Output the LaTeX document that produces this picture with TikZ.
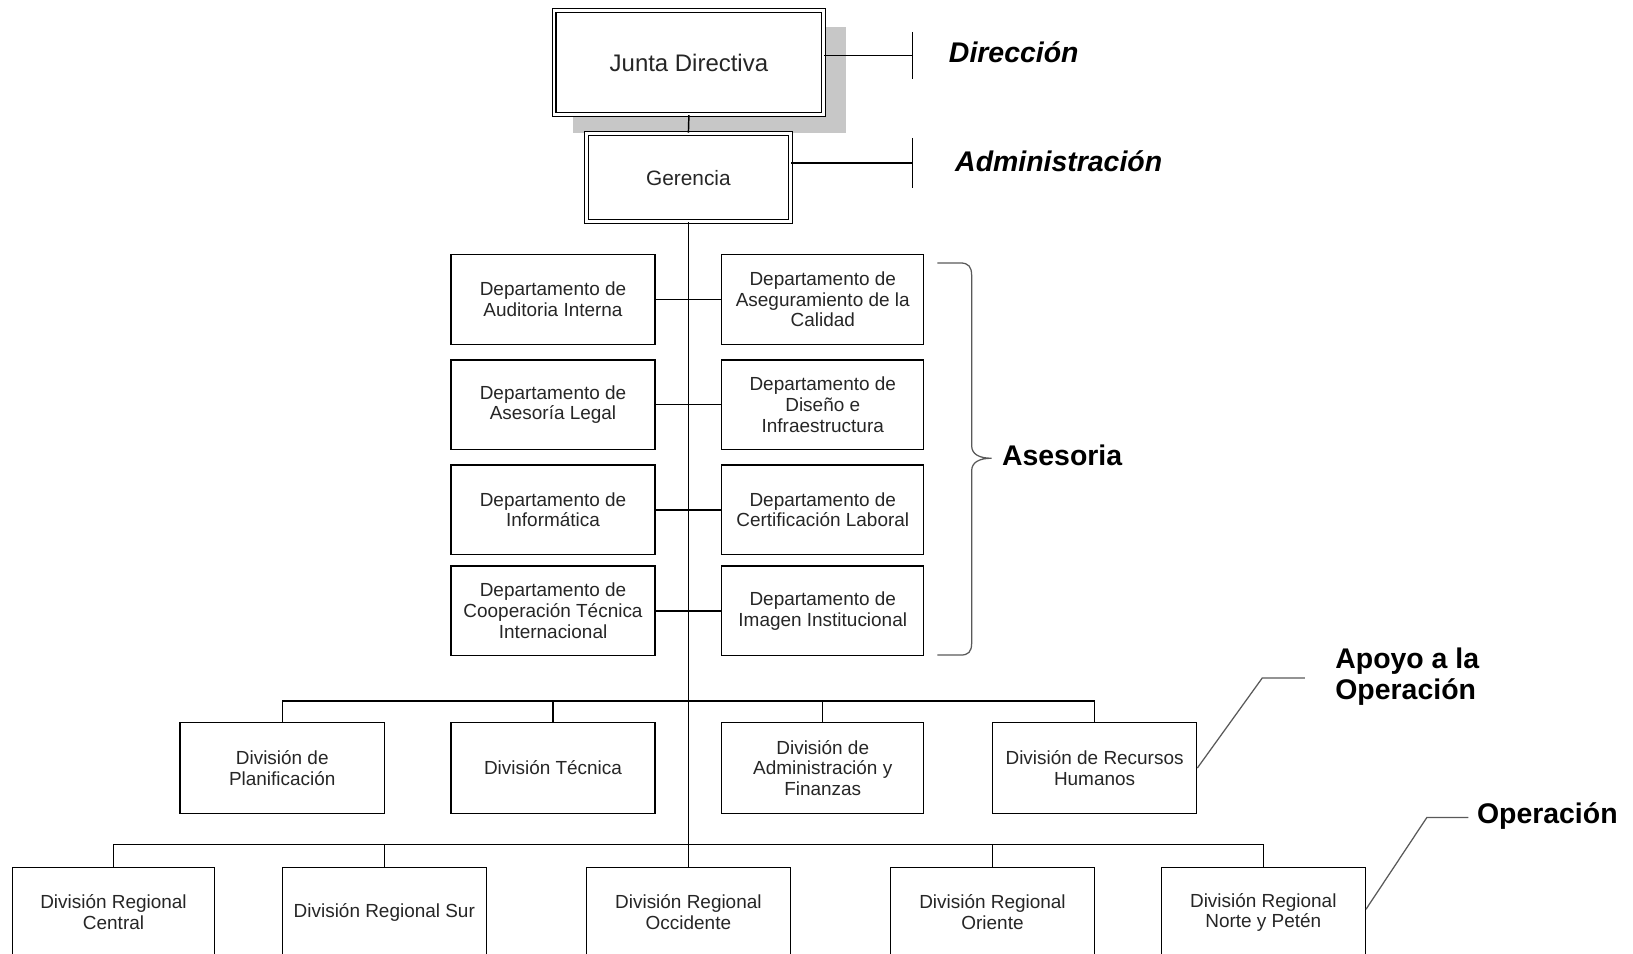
\documentclass[tikz,border=0pt]{standalone}
\usepackage{fontspec}
\setmainfont{Liberation Sans}
\newcommand{\deptfont}{\fontsize{18.2}{19.8}\selectfont}
\newcommand{\lblfont}{\fontsize{27.3}{30}\selectfont\bfseries}
\begin{document}
\begin{tikzpicture}[x=1pt,y=-1pt]
\tikzset{
  box/.style={draw, line width=1.3pt, fill=white, align=center, minimum width=196pt, minimum height=86pt, inner sep=2pt, font=\deptfont, text=black!85},
  dbox/.style={draw, double, double distance=2.6pt, line width=1.1pt, fill=white, align=center, inner sep=2pt, text=black!85},
  conn/.style={line width=1.4pt},
  lead/.style={line width=1.2pt, black!65},
  lbl/.style={anchor=west, font=\lblfont, inner sep=0pt, align=left}
}
\useasboundingbox (0,0) rectangle (1568,916);
% shadow
\fill[black!22] (550,26) rectangle (812,128);
% top
\node[dbox, minimum width=259pt, minimum height=100pt, font=\fontsize{23}{26}\selectfont] (junta) at (661.5,60) {Junta Directiva};
\node[dbox, minimum width=196pt, minimum height=85pt, font=\fontsize{20}{23}\selectfont] (ger) at (661,170.5) {Gerencia};
\draw[conn] (junta.south) -- (ger.north);
% Direccion / Administracion
\coordinate (dirbar) at (876,53.5);
\coordinate (admbar) at (876,156.5);
\draw[conn] (junta.east |- dirbar) -- (dirbar);
\draw[conn] (876,30.5) -- (876,76);
\draw[conn] (ger.east |- admbar) -- (admbar);
\draw[conn] (876,132.5) -- (876,180.5);
\node[lbl, font=\lblfont\itshape] (dir) at (911,50) {Dirección};
\node[lbl, font=\lblfont\itshape] (adm) at (917,155) {Administración};
% departments
\node[box] (l1) at (531,287.5) {Departamento de\\Auditoria Interna};
\node[box] (l2) at (531,388.5) {Departamento de\\Asesoría Legal};
\node[box] (l3) at (531,489.5) {Departamento de\\Informática};
\node[box] (l4) at (531,586.5) {Departamento de\\Cooperación Técnica\\Internacional};
\node[box, minimum width=194pt] (r1) at (790,287.5) {Departamento de\\Aseguramiento de la\\Calidad};
\node[box, minimum width=194pt] (r2) at (790,388.5) {Departamento de\\Diseño e\\Infraestructura};
\node[box, minimum width=194pt] (r3) at (790,489.5) {Departamento de\\Certificación Laboral};
\node[box, minimum width=194pt] (r4) at (790,586.5) {Departamento de\\Imagen Institucional};
\foreach \i in {1,2,3,4}{\draw[conn] (l\i.east) -- (r\i.west);}
% trunk
\coordinate (mh) at (661,673);
\coordinate (bh) at (661,811);
\draw[conn] (ger.south) -- (bh);
% brace
\draw[lead] (900,252.5) -- (922,252.5) .. controls (930,252.5) and (933,256) .. (933,265)
  -- (933,428) .. controls (933,436) and (940,440) .. (952,440)
  .. controls (940,440) and (933,444) .. (933,452)
  -- (933,617) .. controls (933,626) and (930,629) .. (922,629) -- (900,629);
\node[lbl] (ases) at (962,437) {Asesoria};
% divisions
\node[box, minimum height=87pt] (d1) at (271,737.5) {División de\\Planificación};
\node[box, minimum height=87pt] (d2) at (531,737.5) {División Técnica};
\node[box, minimum height=87pt, minimum width=194pt] (d3) at (790,737.5) {División de\\Administración y\\Finanzas};
\node[box, minimum height=87pt] (d4) at (1051,737.5) {División de Recursos\\Humanos};
\draw[conn] (d1.north) -- (d1.north |- mh) -- (d4.north |- mh) -- (d4.north);
\draw[conn] (d2.north) -- (d2.north |- mh);
\draw[conn] (d3.north) -- (d3.north |- mh);
% Apoyo
\coordinate (ap1) at (1212,651);
\coordinate (ap2) at (1253,651);
\draw[lead] (d4.east) -- (ap1) -- (ap2);
\node[lbl] (apoyo) at (1282,650) {Apoyo a la\\Operación};
% regional
\node[box, minimum width=194pt] (g1) at (109,876) {División Regional\\Central};
\node[box] (g2) at (369,876) {División Regional Sur};
\node[box] (g3) at (661,876) {División Regional\\Occidente};
\node[box] (g4) at (953,876) {División Regional\\Oriente};
\node[box] (g5) at (1213,876) {División Regional\\Norte y Petén};
\draw[conn] (g1.north) -- (g1.north |- bh) -- (g5.north |- bh) -- (g5.north);
\draw[conn] (g2.north) -- (g2.north |- bh);
\draw[conn] (g3.north) -- (g3.north |- bh);
\draw[conn] (g4.north) -- (g4.north |- bh);
% Operacion
\coordinate (op0) at (1312,873);
\coordinate (op1) at (1370,785);
\coordinate (op2) at (1410,785);
\draw[lead] (g5.east |- op0) -- (op1) -- (op2);
\node[lbl] (oper) at (1418,784) {Operación};
\end{tikzpicture}
\end{document}
